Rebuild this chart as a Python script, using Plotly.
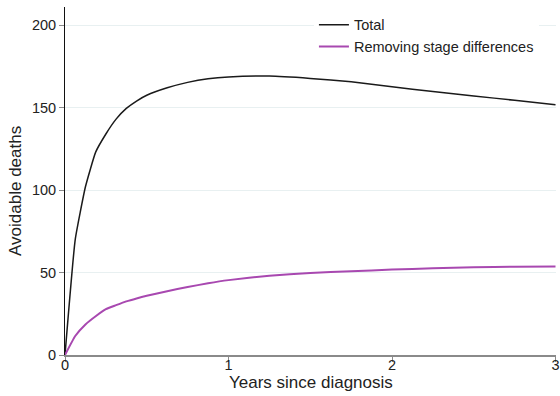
import plotly.graph_objects as go

years = [0, 0.0625, 0.125, 0.1875, 0.25, 0.3125, 0.375, 0.4375, 0.5,
         0.625, 0.75, 0.875, 1.0, 1.25, 1.5, 1.75, 2.0, 2.25, 2.5, 2.75, 3.0]
total = [0, 70, 102, 123, 134, 143, 149.5, 154, 157.5,
         162, 165.3, 167.5, 168.6, 169.1, 167.7, 165.7, 162.6, 159.8, 157.1, 154.4, 151.8]
removing_stage = [0, 11.5, 18.5, 23.5, 27.8, 30.2, 32.5, 34.3, 35.9,
                  38.7, 41.2, 43.5, 45.4, 48.1, 49.7, 50.8, 51.8, 52.6, 53.2, 53.5, 53.6]

font = "Liberation Sans, Arial, sans-serif"

fig = go.Figure()
fig.add_trace(go.Scatter(x=years, y=total, mode="lines", name="Total",
                         line=dict(color="#1a1a1a", width=1.5, shape="spline", smoothing=0.4)))
fig.add_trace(go.Scatter(x=years, y=removing_stage, mode="lines",
                         name="Removing stage differences",
                         line=dict(color="#a848b0", width=2, shape="spline", smoothing=0.4)))

fig.update_layout(
    width=560, height=396,
    margin=dict(l=65, r=4, t=7, b=41),
    paper_bgcolor="white", plot_bgcolor="white",
    font=dict(family=font, size=14, color="#222"),
    showlegend=True,
    legend=dict(x=0.507, y=0.995, xanchor="left", yanchor="top",
                bgcolor="white", font=dict(size=14.5, color="#222"),
                tracegroupgap=0, itemwidth=30),
    xaxis=dict(range=[0, 3.003], tickvals=[0, 1, 2, 3], showgrid=False,
               zeroline=False, showline=True, linecolor="#8a8a8a", linewidth=2,
               ticks="outside", ticklen=5, tickcolor="#8a8a8a", tickwidth=1,
               tickfont=dict(size=14.5), automargin=False, ticklabelstandoff=-9),
    yaxis=dict(range=[0, 211], tickvals=[0, 50, 100, 150, 200], showgrid=True,
               gridcolor="#e8f0f1", gridwidth=1, zeroline=False,
               showline=True, linecolor="#111", linewidth=1,
               ticks="outside", ticklen=5, tickcolor="#8a8a8a", tickwidth=1,
               tickfont=dict(size=14.5), automargin=False),
    annotations=[
        dict(text="Years since diagnosis", xref="paper", yref="paper",
             x=0.5, y=-41/348, yshift=2, xanchor="center", yanchor="bottom",
             showarrow=False, font=dict(size=17, color="#222")),
        dict(text="Avoidable deaths", xref="paper", yref="paper",
             x=-65/491, xshift=4, y=0.47, xanchor="left", yanchor="middle",
             textangle=-90, showarrow=False, font=dict(size=17, color="#222")),
    ],
)

fig.write_html("out.html")
